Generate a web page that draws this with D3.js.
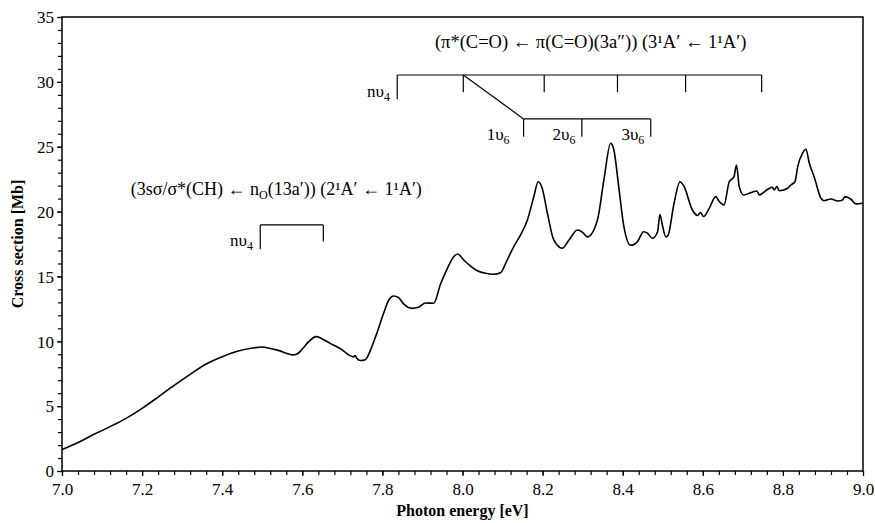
<!DOCTYPE html>
<html><head><meta charset="utf-8">
<script src="https://cdn.jsdelivr.net/npm/d3@7"></script>
<style>
body{margin:0;background:#fff;}
svg text{font-family:"Liberation Serif","Times New Roman",serif;fill:#000;}
</style></head>
<body><svg id="c" width="875" height="523"></svg>
<script>
const energy = [7.00,7.04,7.08,7.12,7.16,7.20,7.24,7.28,7.32,7.36,7.40,7.44,7.48,7.50,7.52,7.54,7.56,7.575,7.587,7.60,7.616,7.635,7.649,7.67,7.70,7.716,7.728,7.732,7.736,7.745,7.755,7.762,7.77,7.787,7.803,7.816,7.828,7.84,7.853,7.874,7.89,7.908,7.928,7.945,7.962,7.978,7.988,8.003,8.02,8.037,8.058,8.078,8.095,8.112,8.128,8.145,8.162,8.178,8.189,8.199,8.212,8.228,8.249,8.266,8.287,8.30,8.312,8.337,8.353,8.37,8.378,8.391,8.403,8.42,8.437,8.452,8.462,8.474,8.487,8.493,8.499,8.5075,8.513,8.528,8.543,8.553,8.574,8.587,8.594,8.602,8.616,8.6325,8.641,8.653,8.666,8.678,8.684,8.691,8.702,8.72,8.735,8.741,8.762,8.774,8.778,8.785,8.791,8.812,8.82,8.83,8.837,8.849,8.8575,8.866,8.878,8.895,8.903,8.92,8.937,8.949,8.955,8.97,8.9825,9.0];
const crossSection = [1.65,2.2,2.83,3.42,4.06,4.83,5.7,6.6,7.45,8.25,8.81,9.25,9.5,9.56,9.45,9.3,9.07,8.95,9.02,9.4,9.97,10.36,10.2,9.84,9.33,8.94,8.8,8.9,8.7,8.52,8.55,8.76,9.3,10.7,12.16,13.18,13.49,13.38,12.88,12.54,12.62,12.95,12.93,14.4,15.6,16.52,16.73,16.27,15.8,15.44,15.24,15.17,15.29,16.3,17.3,18.2,19.35,21.15,22.3,21.8,19.87,17.81,17.17,17.81,18.58,18.4,18.05,19.35,22.44,25.27,24.75,21.67,18.84,17.4,17.68,18.45,18.33,17.94,18.45,19.77,18.97,18.05,18.15,20.6,22.3,21.95,20.12,19.7,19.92,19.62,20.25,21.15,20.77,20.51,22.3,22.69,23.59,21.92,21.28,21.46,21.59,21.28,21.72,21.87,21.67,21.92,21.61,21.8,22.05,22.3,23.46,24.5,24.8,23.72,22.69,21.03,20.84,20.97,20.82,20.9,21.15,20.95,20.59,20.64];
const xTicks = [7.0,7.2,7.4,7.6,7.8,8.0,8.2,8.4,8.6,8.8,9.0];
const yTicks = [0,5,10,15,20,25,30,35];
// annotation combs (energies, eV)
const piComb = [7.837,8.002,8.204,8.387,8.557,8.747];
const v6Comb = [8.1525,8.298,8.47];
const sComb = [7.495,7.6525];

const svg = d3.select("#c");
const m = {l:62,r:12,t:17,b:52};
const W = 875, H = 523;
const x = d3.scaleLinear().domain([7,9]).range([m.l, W-m.r]);
const y = d3.scaleLinear().domain([0,35]).range([H-m.b, m.t]);

// axes
svg.append("g").attr("transform",`translate(0,${y(0)})`)
  .call(d3.axisBottom(x).tickValues(d3.range(0,51).map(i=>7+i*0.04)).tickSize(4).tickFormat(""));
const xAx2 = svg.append("g").attr("transform",`translate(0,${y(0)})`)
  .call(d3.axisBottom(x).tickValues(xTicks).tickSize(5).tickFormat(d3.format(".1f")));
svg.append("g").attr("transform",`translate(${x(7)},0)`)
  .call(d3.axisLeft(y).tickValues(d3.range(0,36)).tickSize(4).tickFormat(""));
const yAx2 = svg.append("g").attr("transform",`translate(${x(7)},0)`)
  .call(d3.axisLeft(y).tickValues(yTicks).tickSize(5).tickFormat(d3.format("d")));
svg.selectAll(".domain").remove();
svg.selectAll(".tick line").attr("stroke","#000").attr("stroke-width",1.2);
svg.selectAll(".tick text").attr("font-size",17).attr("font-family","Liberation Serif");
xAx2.selectAll(".tick text").attr("dy","1.0em").attr("y",7);
yAx2.selectAll(".tick text").attr("x",-8).attr("dy","0.34em");

// frame
svg.append("rect").attr("x",x(7)).attr("y",y(35)).attr("width",x(9)-x(7)).attr("height",y(0)-y(35))
  .attr("fill","none").attr("stroke","#000").attr("stroke-width",1.5);

// titles
svg.append("text").attr("x",(x(7)+x(9))/2).attr("y",516).attr("text-anchor","middle")
  .attr("font-size",16).attr("font-weight","bold").text("Photon energy [eV]");
svg.append("text").attr("transform",`translate(23,${(y(0)+y(35))/2}) rotate(-90)`).attr("text-anchor","middle")
  .attr("font-size",16).attr("font-weight","bold").text("Cross section [Mb]");

// curve
const data = energy.map((e,i)=>[e,crossSection[i]]);
svg.append("path").datum(data)
  .attr("d", d3.line().x(d=>x(d[0])).y(d=>y(d[1])).curve(d3.curveMonotoneX))
  .attr("fill","none").attr("stroke","#000").attr("stroke-width",1.6).attr("stroke-linejoin","round");

// annotations
const ann = svg.append("g").attr("stroke","#000").attr("stroke-width",1.2).attr("fill","none");
function ln(x1,y1,x2,y2){ann.append("line").attr("x1",x(x1)).attr("y1",y(y1)).attr("x2",x(x2)).attr("y2",y(y2));}
const piY = 30.53;
ln(piComb[0],piY,piComb[piComb.length-1],piY);
ln(piComb[0],piY,piComb[0],28.66);
piComb.slice(1).forEach(e=>ln(e,piY,e,29.2));
const v6Y = 27.14;
ln(piComb[1],piY,v6Comb[0],v6Y);
ln(v6Comb[0],v6Y,v6Comb[2],v6Y);
v6Comb.forEach(e=>ln(e,v6Y,e,25.77));
const sY = 18.97;
ln(sComb[0],sY,sComb[1],sY);
ln(sComb[0],sY,sComb[0],17.1);
ln(sComb[1],sY,sComb[1],17.7);

function label(xe, yv, parts, anchor, fs){
  const t = svg.append("text").attr("x",x(xe)).attr("y",yv).attr("font-size",fs||17).attr("text-anchor",anchor||"start");
  parts.forEach(p=>{
    const ts = t.append("tspan").text(p[0]);
    if(p[1]==="sub"){ts.attr("font-size",12).attr("dy",4);}
    else if(p[1]==="back"){ts.attr("dy",-4);}
  });
  return t;
}
label(8.32, 48, [["(π*(C=O) ← π(C=O)(3a″)) (3¹A′ ← 1¹A′)"]], "middle", 18.5);
label(7.535, 195, [["(3sσ/σ*(CH) ← n"],["O","sub"],["(13a′)) (2¹A′ ← 1¹A′)","back"]], "middle", 18);
label(piComb[0]-0.018, 97, [["nυ"],["4","sub"]], "end");
label(sComb[0]-0.018, 246, [["nυ"],["4","sub"]], "end");
label(v6Comb[0]-0.035, 140, [["1υ"],["6","sub"]], "end");
label(v6Comb[1]-0.016, 140, [["2υ"],["6","sub"]], "end");
label(v6Comb[2]-0.016, 140, [["3υ"],["6","sub"]], "end");
</script></body></html>
